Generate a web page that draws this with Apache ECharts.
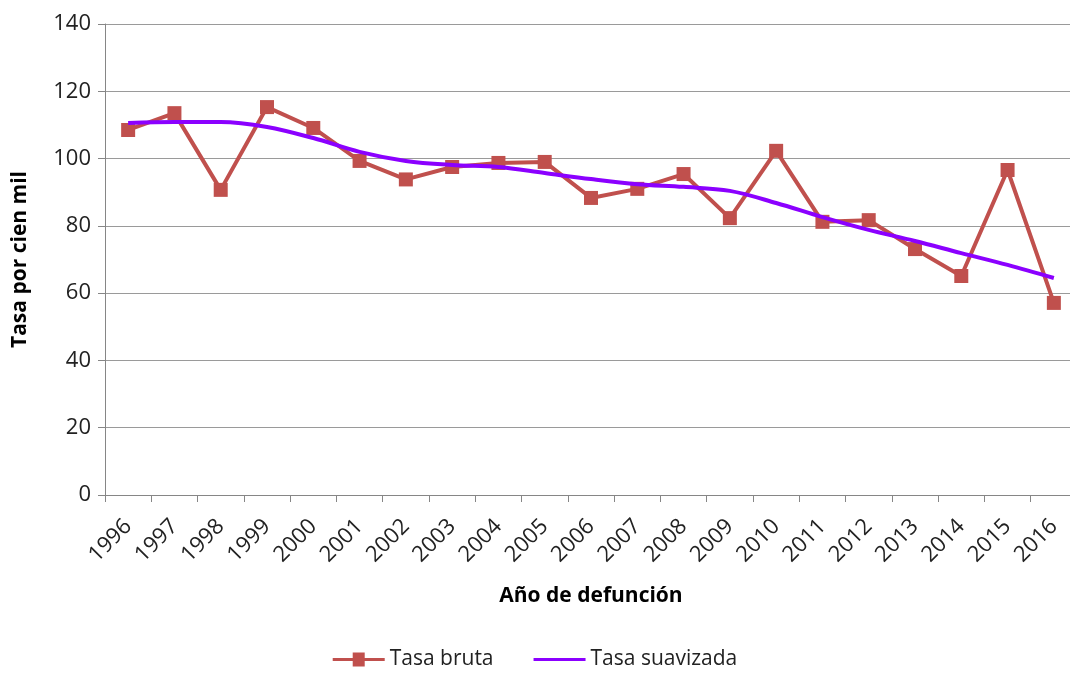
<!DOCTYPE html>
<html>
<head>
<meta charset="utf-8">
<script src="https://cdn.jsdelivr.net/npm/echarts@6/dist/echarts.min.js"></script>
<style>
  html, body { margin: 0; padding: 0; background: #fff; }
  #main { width: 1070px; height: 675px; }
</style>
</head>
<body>
<div id="main"></div>
<script>
// años
var years = ['1996', '1997', '1998', '1999', '2000', '2001', '2002', '2003', '2004', '2005',
  '2006', '2007', '2008', '2009', '2010', '2011', '2012', '2013', '2014', '2015', '2016'];
// tasa bruta
var tasaBruta = [108.5, 113.5, 90.7, 115.3, 109.1, 99.3, 93.8, 97.5, 98.7, 99.0,
  88.3, 91.0, 95.4, 82.3, 102.3, 81.2, 81.7, 73.1, 65.1, 96.6, 57.1];
// tasa suavizada
var tasaSuavizada = [110.6, 110.9, 110.9, 109.4, 106.1, 102.0, 99.3, 98.1, 97.5, 95.7,
  93.9, 92.4, 91.6, 90.4, 86.8, 82.6, 78.8, 75.5, 71.9, 68.4, 64.5];

var font = '"Open Sans", "Noto Sans", sans-serif';
var chart = echarts.init(document.getElementById('main'));

var option = {
  animation: false,
  grid: {
    left: 105,
    top: 24,
    width: 972,
    height: 471,
    outerBoundsMode: 'none',
    containLabel: false
  },
  legend: {
    bottom: 0,
    left: 'center',
    itemWidth: 52,
    itemHeight: 14,
    itemGap: 40,
    textStyle: { fontFamily: font, fontSize: 21, color: '#222' },
    data: [
      { name: 'Tasa bruta', icon: 'path://M0,5.5 L20,5.5 L20,0 L32,0 L32,5.5 L52,5.5 L52,8.5 L32,8.5 L32,14 L20,14 L20,8.5 L0,8.5 Z' },
      { name: 'Tasa suavizada', icon: 'path://M0,5.5 L52,5.5 L52,8.5 L0,8.5 Z' }
    ]
  },
  xAxis: {
    type: 'category',
    data: years,
    boundaryGap: true,
    name: 'Año de defunción',
    nameLocation: 'middle',
    nameGap: 91,
    nameTextStyle: { fontFamily: font, fontSize: 21, fontWeight: 'bold', color: '#000' },
    axisLine: { lineStyle: { color: '#868686', width: 1 } },
    axisTick: { show: true, alignWithLabel: false, length: 7, lineStyle: { color: '#868686' } },
    axisLabel: {
      rotate: 45,
      interval: 0,
      margin: 28,
      fontFamily: font,
      fontSize: 22,
      color: '#222'
    },
    splitLine: { show: false }
  },
  yAxis: {
    type: 'value',
    min: 0,
    max: 140,
    interval: 20,
    name: 'Tasa por cien mil',
    nameLocation: 'middle',
    nameGap: 74,
    nameRotate: 90,
    nameTextStyle: { fontFamily: font, fontSize: 21, fontWeight: 'bold', color: '#000' },
    axisLine: { show: true, lineStyle: { color: '#868686', width: 1 } },
    axisTick: { show: true, length: 7, lineStyle: { color: '#868686' } },
    axisLabel: { fontFamily: font, fontSize: 22, color: '#222', margin: 14 },
    splitLine: { lineStyle: { color: '#9a9a9a', width: 1 } }
  },
  series: [
    {
      name: 'Tasa bruta',
      type: 'line',
      data: tasaBruta,
      symbol: 'rect',
      symbolSize: 14,
      lineStyle: { color: '#C0504D', width: 4 },
      itemStyle: { color: '#C0504D', borderWidth: 0 },
      z: 2
    },
    {
      name: 'Tasa suavizada',
      type: 'line',
      data: tasaSuavizada,
      smooth: 0.35,
      showSymbol: false,
      symbol: 'none',
      lineStyle: { color: '#8B00FF', width: 4 },
      itemStyle: { color: '#8B00FF' },
      z: 3
    }
  ]
};
chart.setOption(option);
</script>
</body>
</html>
